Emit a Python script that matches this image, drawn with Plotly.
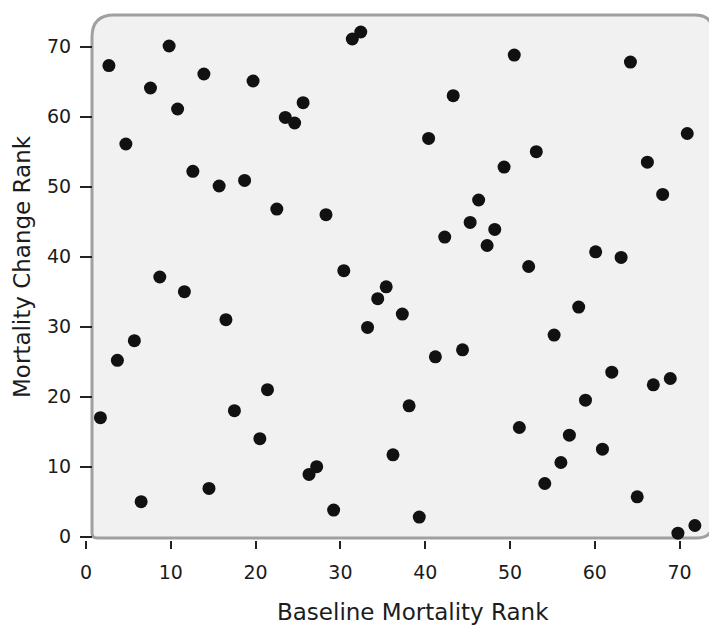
import plotly.graph_objects as go

# Baseline mortality rank (x) and mortality change rank (y)
baseline_rank = [9.8, 2.7, 13.9, 19.7, 7.6, 25.6, 10.8, 23.5, 24.6, 4.7,
                 12.6, 15.7, 18.7, 22.5, 8.7, 11.6, 16.5, 5.7, 3.7, 21.4,
                 1.7, 17.5, 20.5, 14.5, 6.5, 32.4, 31.4, 50.5, 43.3, 40.4,
                 49.3, 46.3, 28.3, 45.3, 48.2, 42.3, 47.3, 30.4, 64.2, 70.9,
                 53.1, 66.2, 68.0, 60.1, 63.1, 52.2, 35.4, 34.4, 37.3, 33.2,
                 41.2, 44.4, 38.1, 36.2, 27.2, 26.3, 29.2, 39.3, 58.1, 55.2,
                 62.0, 66.9, 68.9, 58.9, 51.1, 57.0, 60.9, 56.0, 54.1, 65.0,
                 71.8, 69.8]
change_rank = [70.1, 67.3, 66.1, 65.1, 64.1, 62.0, 61.1, 59.9, 59.1, 56.1,
               52.2, 50.1, 50.9, 46.8, 37.1, 35.0, 31.0, 28.0, 25.2, 21.0,
               17.0, 18.0, 14.0, 6.9, 5.0, 72.1, 71.1, 68.8, 63.0, 56.9,
               52.8, 48.1, 46.0, 44.9, 43.9, 42.8, 41.6, 38.0, 67.8, 57.6,
               55.0, 53.5, 48.9, 40.7, 39.9, 38.6, 35.7, 34.0, 31.8, 29.9,
               25.7, 26.7, 18.7, 11.7, 10.0, 8.9, 3.8, 2.8, 32.8, 28.8,
               23.5, 21.7, 22.6, 19.5, 15.6, 14.5, 12.5, 10.6, 7.6, 5.7,
               1.6, 0.5]
tick_vals = [0, 10, 20, 30, 40, 50, 60, 70]
x_title = "Baseline Mortality Rank"
y_title = "Mortality Change Rank"

W, H = 717, 626
OFF = 8  # page body margin of the html page
# plot area in page pixels
P_L, P_R, P_T, P_B = 85, 714, 15, 540
L, R, T, B = P_L - OFF, W - (P_R - OFF), P_T - OFF, H - (P_B - OFF)
pw, ph = P_R - P_L, P_B - P_T


def px_x(p):  # page pixel -> paper x
    return (p - P_L) / pw


def px_y(p):  # page pixel -> paper y
    return (P_B - p) / ph


fig = go.Figure()
fig.add_trace(go.Scatter(
    x=baseline_rank, y=change_rank, mode="markers",
    marker=dict(size=13, color="#111111"),
    hoverinfo="x+y", showlegend=False,
))

# rounded frame of the plot area
fl, fr, ft, fb = 92, 713, 15, 538
r_tl, r_tr, r_br, r_bl = 22, 18, 16, 5
path = (
    f"M {px_x(fl)},{px_y(fb - r_bl)} "
    f"L {px_x(fl)},{px_y(ft + r_tl)} "
    f"Q {px_x(fl)},{px_y(ft)} {px_x(fl + r_tl)},{px_y(ft)} "
    f"L {px_x(fr - r_tr)},{px_y(ft)} "
    f"Q {px_x(fr)},{px_y(ft)} {px_x(fr)},{px_y(ft + r_tr)} "
    f"L {px_x(fr)},{px_y(fb - r_br)} "
    f"Q {px_x(fr)},{px_y(fb)} {px_x(fr - r_br)},{px_y(fb)} "
    f"L {px_x(fl + r_bl)},{px_y(fb)} "
    f"Q {px_x(fl)},{px_y(fb)} {px_x(fl)},{px_y(fb - r_bl)} Z"
)
fig.add_shape(type="path", path=path, xref="paper", yref="paper",
              fillcolor="#f1f1f1", line=dict(color="#a0a0a0", width=3),
              layer="below")

font = "DejaVu Sans, Verdana, sans-serif"
tc = "#1c1c1c"
fig.update_layout(
    width=W, height=H,
    margin=dict(l=L, r=R, t=T, b=B, pad=0),
    paper_bgcolor="white", plot_bgcolor="rgba(0,0,0,0)",
    font=dict(family=font, color=tc),
    xaxis=dict(
        range=[-0.12, -0.12 + pw / 8.48], tickvals=tick_vals, ticks="outside",
        ticklen=8, tickwidth=1.5, tickcolor="#222", showgrid=False,
        zeroline=False, showline=False, ticklabelstandoff=7,
        tickfont=dict(size=19, family=font, color=tc),
    ),
    yaxis=dict(
        range=[-0.47, -0.47 + ph / 7.0], tickvals=tick_vals, ticks="outside",
        ticklen=12, tickwidth=1.5, tickcolor="#222", showgrid=False,
        zeroline=False, showline=False, anchor="free", position=px_x(92),
        ticklabelstandoff=5,
        tickfont=dict(size=19, family=font, color=tc),
    ),
    annotations=[
        dict(text=x_title, xref="paper", yref="paper",
             x=px_x(413), y=px_y(612), showarrow=False,
             xanchor="center", yanchor="middle",
             font=dict(size=23, family=font, color=tc)),
        dict(text=y_title, xref="paper", yref="paper",
             x=px_x(22), y=px_y(267), showarrow=False, textangle=-90,
             xanchor="center", yanchor="middle",
             font=dict(size=23, family=font, color=tc)),
    ],
)

fig.write_html("out.html")
